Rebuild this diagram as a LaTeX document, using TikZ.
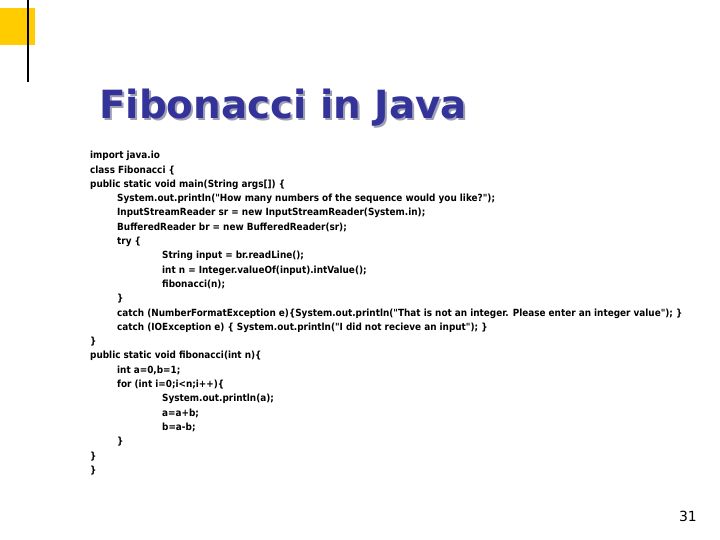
\documentclass[tikz,border=0pt]{standalone}
\usepackage{fontspec}
\setmainfont{DejaVu Sans}
\newfontfamily\codefont{DejaVu Sans Condensed}
\usetikzlibrary{positioning}
\definecolor{slideyellow}{HTML}{FFCC00}
\definecolor{titleblue}{HTML}{333399}
\definecolor{titleshadow}{HTML}{A0A0B4}
\tikzset{
  titletext/.style = {font=\fontsize{39}{44}\selectfont\bfseries, text=titleblue, inner sep=0pt, anchor=base west},
  codetext/.style = {font=\codefont\fontsize{9.9}{14.36}\selectfont\bfseries, align=left, inner sep=0pt, anchor=north west},
  pagenum/.style = {font=\fontsize{14}{16}\selectfont, inner sep=0pt, anchor=base east}
}
\newcommand{\indA}{\hspace*{27bp}}
\newcommand{\indB}{\hspace*{72bp}}
\newcommand{\shadowed}[1]{\rlap{\hspace*{2bp}\raisebox{-2bp}{\textcolor{titleshadow}{#1}}}#1}

\begin{document}
\begin{tikzpicture}[x=1bp, y=-1bp]
    \useasboundingbox (0,0) rectangle (720,540);

    % Slide decoration
    \fill [slideyellow] (0,8) rectangle (35,45);
    \draw [line width=2.5bp] (28,0) -- (28,82);

    % Title
    \node (title) [titletext] at (99,119) {\shadowed{Fibonacci in Java}};

    % Code
    \node (code) [codetext] at (90,151) {%
import java.io\\
class Fibonacci \{\\
public static void main(String args[]) \{\\
\indA System.out.println("How many numbers of the sequence would you like?");\\
\indA InputStreamReader sr = new InputStreamReader(System.in);\\
\indA BufferedReader br = new BufferedReader(sr);\\
\indA try \{\\
\indB String input = br.readLine();\\
\indB int n = Integer.valueOf(input).intValue();\\
\indB fibonacci(n);\\
\indA \}\\
\indA catch (NumberFormatException e)\{System.out.println("That is not an integer. Please enter an integer value"); \}\\
\indA catch (IOException e) \{ System.out.println("I did not recieve an input"); \}\\
\}\\
public static void fibonacci(int n)\{\\
\indA int a=0,b=1;\\
\indA for (int i=0;i<n;i++)\{\\
\indB System.out.println(a);\\
\indB a=a+b;\\
\indB b=a-b;\\
\indA \}\\
\}\\
\}};

    % Page number
    \node (page) [pagenum] at (697,521) {31};

\end{tikzpicture}
\end{document}
